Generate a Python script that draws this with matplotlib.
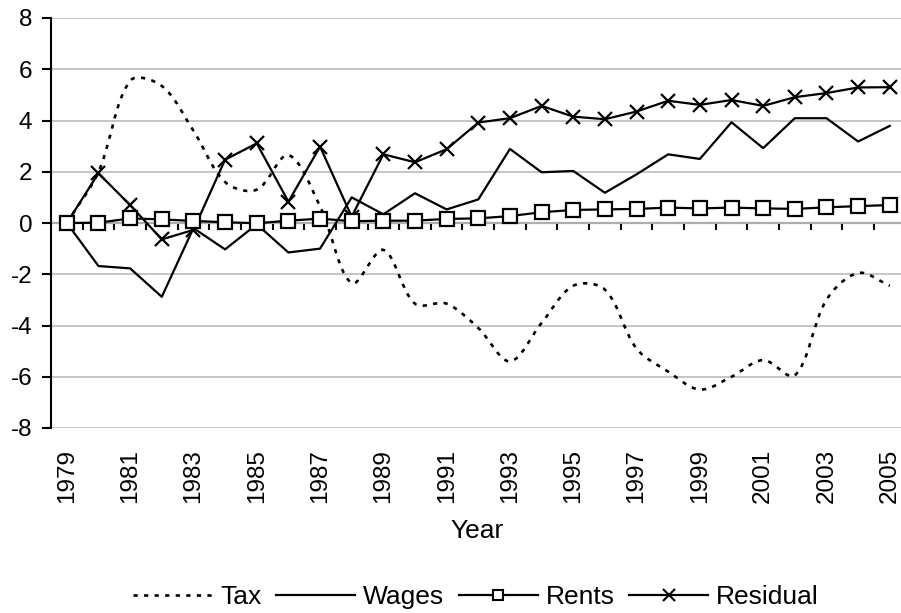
import numpy as np
import matplotlib.pyplot as plt
from matplotlib.path import Path
from matplotlib.patches import PathPatch
from matplotlib.lines import Line2D

plt.rcParams['font.family'] = ['Liberation Sans', 'DejaVu Sans']
plt.rcParams['axes.unicode_minus'] = False

'''Data read off the chart'''
years = list(range(1979, 2006))
tax = [0, 2.0, 5.55, 5.35, 3.6, 1.6, 1.3, 2.65, 0.65, -2.35, -1.05, -3.15, -3.15, -4.1,
       -5.4, -3.9, -2.45, -2.6, -4.9, -5.8, -6.5, -6.0, -5.35, -5.95, -3.0, -1.95, -2.45]
wages = [0, -1.68, -1.77, -2.88, -0.2, -1.03, -0.05, -1.15, -1.0, 1.0, 0.34, 1.16, 0.53,
         0.92, 2.89, 1.98, 2.03, 1.18, 1.9, 2.68, 2.5, 3.93, 2.92, 4.09, 4.09, 3.18, 3.79]
rents = [0, 0.01, 0.18, 0.14, 0.08, 0.03, -0.01, 0.09, 0.17, 0.07, 0.09, 0.09, 0.16,
         0.18, 0.27, 0.42, 0.51, 0.53, 0.55, 0.6, 0.57, 0.6, 0.57, 0.55, 0.61, 0.66, 0.70]
residual = [0, 1.94, 0.7, -0.64, -0.27, 2.47, 3.11, 0.83, 2.98, 0.25, 2.68, 2.37, 2.88,
            3.92, 4.09, 4.57, 4.15, 4.05, 4.35, 4.77, 4.61, 4.8, 4.57, 4.91, 5.07, 5.29, 5.3]

x = np.arange(len(years))
tax_dash = (0, (1.6, 2.4))


def smooth_path(xs, ys, yscale=25.6 / 31.65):
    # smoothed line: bezier segments through every point,
    # tangents weighted by segment length (measured in screen proportions)
    pts = np.column_stack([xs, ys]).astype(float)
    ext = np.vstack([pts[0], pts, pts[-1]])
    scr = ext * np.array([1.0, yscale])
    seg = np.hypot(*np.diff(scr, axis=0).T)
    verts = [pts[0]]
    codes = [Path.MOVETO]
    for i in range(len(pts) - 1):
        p0, p1, p2, p3 = ext[i], ext[i + 1], ext[i + 2], ext[i + 3]
        d01, d12, d23 = seg[i], seg[i + 1], seg[i + 2]
        w1 = d12 / (d01 + d12) if d01 + d12 > 0 else 0.5
        w2 = d12 / (d12 + d23) if d12 + d23 > 0 else 0.5
        verts += [p1 + (p2 - p0) * w1 / 3, p2 - (p3 - p1) * w2 / 3, p2]
        codes += [Path.CURVE4] * 3
    return Path(verts, codes)


fig = plt.figure(figsize=(9.01, 6.13), dpi=100)
ax = fig.add_axes([51 / 901, 185 / 613, 854.6 / 901, 410 / 613])

'''Series'''
ax.add_patch(PathPatch(smooth_path(x, tax), fill=False, edgecolor='black', lw=1.9,
                       linestyle=tax_dash, capstyle='butt', zorder=2))
ax.plot(x, wages, color='black', lw=1.6, zorder=3)
ax.plot(x, residual, color='black', lw=1.6, marker='x', markersize=10.5,
        markeredgewidth=1.6, zorder=4)
ax.plot(x, rents, color='black', lw=1.6, marker='s', markersize=10,
        markerfacecolor='white', markeredgewidth=1.6, zorder=5)

'''Axes styling'''
ax.set_xlim(-0.5, 26.5)
ax.set_ylim(-8, 8)
ax.set_yticks(range(-8, 9, 2))
ax.yaxis.grid(True, color='#c0c0c0', lw=1.3)
ax.set_axisbelow(True)
for s in ['top', 'right', 'bottom']:
    ax.spines[s].set_visible(False)
ax.spines['left'].set_linewidth(1.5)
ax.tick_params(axis='y', direction='out', length=6.5, width=1.5, labelsize=17.5, pad=7)

ax.set_xticks(x[::2])
ax.set_xticklabels(years[::2], rotation=90)
ax.tick_params(axis='x', length=0, pad=15, labelsize=17.5)

'''Horizontal axis line at zero with tick marks between categories'''
sec = ax.secondary_xaxis(0.5)
sec.set_alignment('bottom')
sec.set_xticks(x[:-1] + 0.5)
sec.tick_params(axis='x', direction='out', length=5, width=1.5, labelbottom=False,
                labeltop=False)
for s in sec.spines.values():
    s.set_linewidth(1.5)

ax.set_xlabel('Year', fontsize=19)
ax.xaxis.set_label_coords((477 - 51) / 854.6, (428 - 519) / 410)

'''Legend'''
handles = [
    Line2D([], [], color='black', lw=1.9, linestyle=tax_dash),
    Line2D([], [], color='black', lw=1.6),
    Line2D([], [], color='black', lw=1.6, marker='s', markersize=7,
           markerfacecolor='white', markeredgewidth=1.5),
    Line2D([], [], color='black', lw=1.6, marker='x', markersize=8,
           markeredgewidth=1.5),
]
fig.legend(handles, ['Tax', 'Wages', 'Rents', 'Residual'], loc='center',
           bbox_to_anchor=(476 / 901, 1 - 597 / 613), ncol=4, frameon=False,
           fontsize=19, handlelength=3.0, handletextpad=0.3, columnspacing=0.55)

plt.savefig('out.png', dpi=100)
